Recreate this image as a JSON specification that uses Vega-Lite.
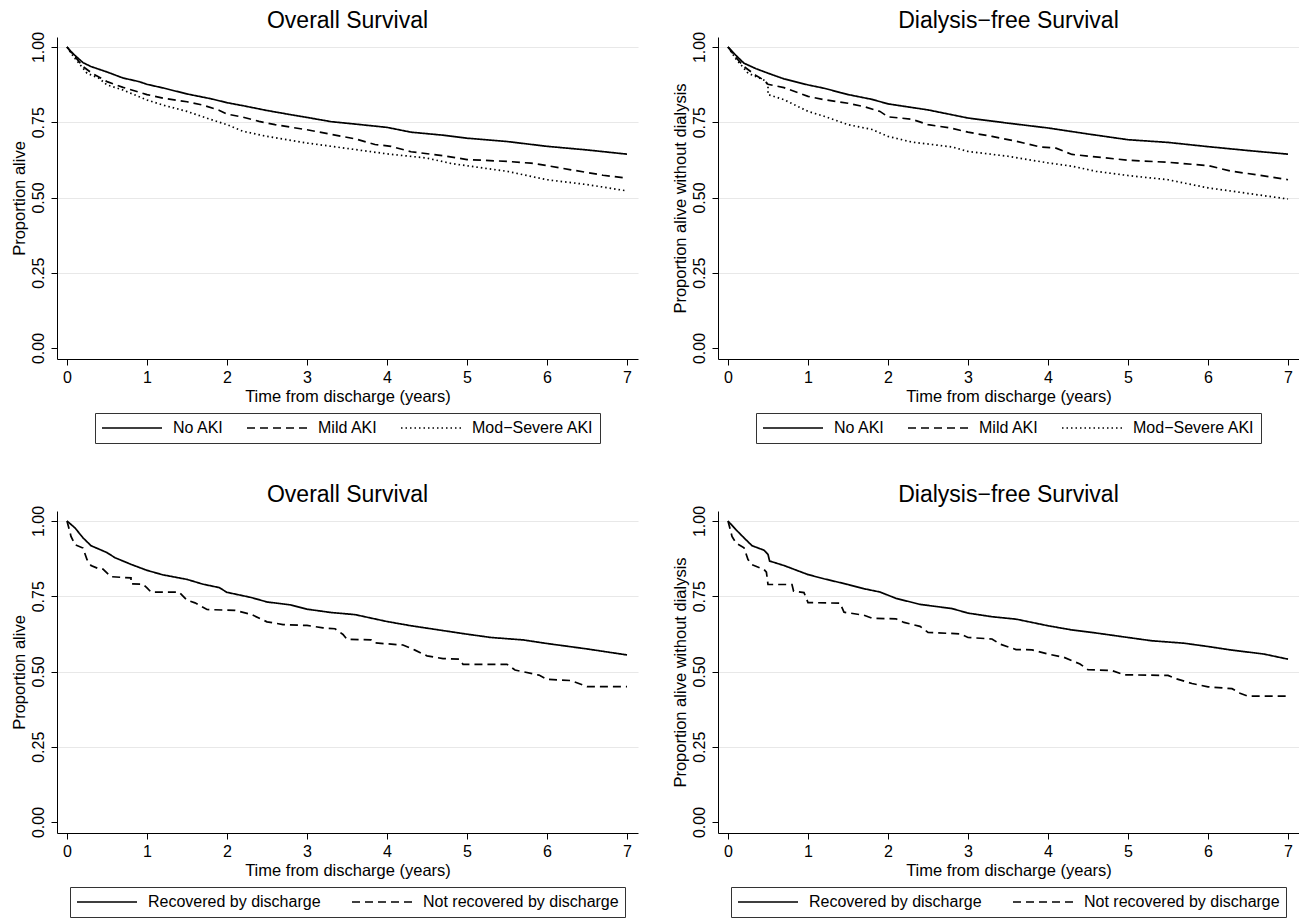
{
  "$schema": "https://vega.github.io/schema/vega-lite/v6.json",
  "background": "white",
  "padding": {"left": 11, "top": 10, "right": 0, "bottom": 0},
  "datasets": {
    "aki_os": [
      {"g": "No AKI", "t": 0, "s": 1.0}, {"g": "No AKI", "t": 0.05, "s": 0.985}, {"g": "No AKI", "t": 0.1, "s": 0.972}, {"g": "No AKI", "t": 0.2, "s": 0.948}, {"g": "No AKI", "t": 0.3, "s": 0.935}, {"g": "No AKI", "t": 0.5, "s": 0.917}, {"g": "No AKI", "t": 0.7, "s": 0.897}, {"g": "No AKI", "t": 0.9, "s": 0.885}, {"g": "No AKI", "t": 1.0, "s": 0.876}, {"g": "No AKI", "t": 1.2, "s": 0.864}, {"g": "No AKI", "t": 1.5, "s": 0.844}, {"g": "No AKI", "t": 1.8, "s": 0.828}, {"g": "No AKI", "t": 2.0, "s": 0.815}, {"g": "No AKI", "t": 2.2, "s": 0.805}, {"g": "No AKI", "t": 2.5, "s": 0.789}, {"g": "No AKI", "t": 2.8, "s": 0.775}, {"g": "No AKI", "t": 3.0, "s": 0.766}, {"g": "No AKI", "t": 3.3, "s": 0.752}, {"g": "No AKI", "t": 3.6, "s": 0.744}, {"g": "No AKI", "t": 4.0, "s": 0.733}, {"g": "No AKI", "t": 4.3, "s": 0.717}, {"g": "No AKI", "t": 4.7, "s": 0.707}, {"g": "No AKI", "t": 5.0, "s": 0.697}, {"g": "No AKI", "t": 5.5, "s": 0.686}, {"g": "No AKI", "t": 6.0, "s": 0.670}, {"g": "No AKI", "t": 6.5, "s": 0.658}, {"g": "No AKI", "t": 7.0, "s": 0.644},
      {"g": "Mild AKI", "t": 0, "s": 1.0}, {"g": "Mild AKI", "t": 0.05, "s": 0.983}, {"g": "Mild AKI", "t": 0.1, "s": 0.968}, {"g": "Mild AKI", "t": 0.2, "s": 0.935}, {"g": "Mild AKI", "t": 0.3, "s": 0.915}, {"g": "Mild AKI", "t": 0.5, "s": 0.885}, {"g": "Mild AKI", "t": 0.7, "s": 0.866}, {"g": "Mild AKI", "t": 1.0, "s": 0.842}, {"g": "Mild AKI", "t": 1.2, "s": 0.830}, {"g": "Mild AKI", "t": 1.5, "s": 0.818}, {"g": "Mild AKI", "t": 1.7, "s": 0.807}, {"g": "Mild AKI", "t": 1.9, "s": 0.790}, {"g": "Mild AKI", "t": 2.0, "s": 0.777}, {"g": "Mild AKI", "t": 2.2, "s": 0.767}, {"g": "Mild AKI", "t": 2.4, "s": 0.753}, {"g": "Mild AKI", "t": 2.6, "s": 0.742}, {"g": "Mild AKI", "t": 3.0, "s": 0.725}, {"g": "Mild AKI", "t": 3.3, "s": 0.710}, {"g": "Mild AKI", "t": 3.6, "s": 0.695}, {"g": "Mild AKI", "t": 3.85, "s": 0.676}, {"g": "Mild AKI", "t": 4.05, "s": 0.670}, {"g": "Mild AKI", "t": 4.3, "s": 0.652}, {"g": "Mild AKI", "t": 4.7, "s": 0.639}, {"g": "Mild AKI", "t": 5.0, "s": 0.626}, {"g": "Mild AKI", "t": 5.5, "s": 0.620}, {"g": "Mild AKI", "t": 5.8, "s": 0.614}, {"g": "Mild AKI", "t": 6.0, "s": 0.606}, {"g": "Mild AKI", "t": 6.3, "s": 0.592}, {"g": "Mild AKI", "t": 6.7, "s": 0.574}, {"g": "Mild AKI", "t": 7.0, "s": 0.564},
      {"g": "Mod−Severe AKI", "t": 0, "s": 1.0}, {"g": "Mod−Severe AKI", "t": 0.05, "s": 0.98}, {"g": "Mod−Severe AKI", "t": 0.1, "s": 0.962}, {"g": "Mod−Severe AKI", "t": 0.25, "s": 0.913}, {"g": "Mod−Severe AKI", "t": 0.4, "s": 0.896}, {"g": "Mod−Severe AKI", "t": 0.5, "s": 0.874}, {"g": "Mod−Severe AKI", "t": 0.7, "s": 0.857}, {"g": "Mod−Severe AKI", "t": 1.0, "s": 0.824}, {"g": "Mod−Severe AKI", "t": 1.2, "s": 0.807}, {"g": "Mod−Severe AKI", "t": 1.5, "s": 0.786}, {"g": "Mod−Severe AKI", "t": 1.8, "s": 0.759}, {"g": "Mod−Severe AKI", "t": 2.0, "s": 0.742}, {"g": "Mod−Severe AKI", "t": 2.2, "s": 0.720}, {"g": "Mod−Severe AKI", "t": 2.5, "s": 0.703}, {"g": "Mod−Severe AKI", "t": 3.0, "s": 0.681}, {"g": "Mod−Severe AKI", "t": 3.5, "s": 0.663}, {"g": "Mod−Severe AKI", "t": 4.0, "s": 0.645}, {"g": "Mod−Severe AKI", "t": 4.5, "s": 0.631}, {"g": "Mod−Severe AKI", "t": 4.8, "s": 0.613}, {"g": "Mod−Severe AKI", "t": 5.2, "s": 0.598}, {"g": "Mod−Severe AKI", "t": 5.5, "s": 0.587}, {"g": "Mod−Severe AKI", "t": 6.0, "s": 0.559}, {"g": "Mod−Severe AKI", "t": 6.5, "s": 0.543}, {"g": "Mod−Severe AKI", "t": 7.0, "s": 0.522}
    ],
    "aki_dfs": [
      {"g": "No AKI", "t": 0, "s": 1.0}, {"g": "No AKI", "t": 0.1, "s": 0.972}, {"g": "No AKI", "t": 0.2, "s": 0.946}, {"g": "No AKI", "t": 0.35, "s": 0.928}, {"g": "No AKI", "t": 0.5, "s": 0.913}, {"g": "No AKI", "t": 0.7, "s": 0.894}, {"g": "No AKI", "t": 1.0, "s": 0.874}, {"g": "No AKI", "t": 1.2, "s": 0.863}, {"g": "No AKI", "t": 1.5, "s": 0.842}, {"g": "No AKI", "t": 1.8, "s": 0.826}, {"g": "No AKI", "t": 2.0, "s": 0.811}, {"g": "No AKI", "t": 2.5, "s": 0.791}, {"g": "No AKI", "t": 3.0, "s": 0.764}, {"g": "No AKI", "t": 3.5, "s": 0.747}, {"g": "No AKI", "t": 4.0, "s": 0.731}, {"g": "No AKI", "t": 4.5, "s": 0.711}, {"g": "No AKI", "t": 5.0, "s": 0.692}, {"g": "No AKI", "t": 5.5, "s": 0.683}, {"g": "No AKI", "t": 6.0, "s": 0.669}, {"g": "No AKI", "t": 6.5, "s": 0.656}, {"g": "No AKI", "t": 7.0, "s": 0.644},
      {"g": "Mild AKI", "t": 0, "s": 1.0}, {"g": "Mild AKI", "t": 0.1, "s": 0.965}, {"g": "Mild AKI", "t": 0.2, "s": 0.935}, {"g": "Mild AKI", "t": 0.35, "s": 0.905}, {"g": "Mild AKI", "t": 0.45, "s": 0.89}, {"g": "Mild AKI", "t": 0.5, "s": 0.876}, {"g": "Mild AKI", "t": 0.7, "s": 0.865}, {"g": "Mild AKI", "t": 1.0, "s": 0.836}, {"g": "Mild AKI", "t": 1.2, "s": 0.825}, {"g": "Mild AKI", "t": 1.5, "s": 0.813}, {"g": "Mild AKI", "t": 1.7, "s": 0.802}, {"g": "Mild AKI", "t": 1.9, "s": 0.786}, {"g": "Mild AKI", "t": 2.0, "s": 0.768}, {"g": "Mild AKI", "t": 2.3, "s": 0.760}, {"g": "Mild AKI", "t": 2.5, "s": 0.742}, {"g": "Mild AKI", "t": 2.8, "s": 0.730}, {"g": "Mild AKI", "t": 3.0, "s": 0.717}, {"g": "Mild AKI", "t": 3.3, "s": 0.703}, {"g": "Mild AKI", "t": 3.6, "s": 0.687}, {"g": "Mild AKI", "t": 3.9, "s": 0.668}, {"g": "Mild AKI", "t": 4.1, "s": 0.664}, {"g": "Mild AKI", "t": 4.3, "s": 0.643}, {"g": "Mild AKI", "t": 4.7, "s": 0.632}, {"g": "Mild AKI", "t": 5.0, "s": 0.624}, {"g": "Mild AKI", "t": 5.5, "s": 0.617}, {"g": "Mild AKI", "t": 6.0, "s": 0.606}, {"g": "Mild AKI", "t": 6.3, "s": 0.587}, {"g": "Mild AKI", "t": 6.6, "s": 0.576}, {"g": "Mild AKI", "t": 7.0, "s": 0.559},
      {"g": "Mod−Severe AKI", "t": 0, "s": 1.0}, {"g": "Mod−Severe AKI", "t": 0.1, "s": 0.96}, {"g": "Mod−Severe AKI", "t": 0.25, "s": 0.913}, {"g": "Mod−Severe AKI", "t": 0.45, "s": 0.89}, {"g": "Mod−Severe AKI", "t": 0.5, "s": 0.874}, {"g": "Mod−Severe AKI", "t": 0.5, "s": 0.842}, {"g": "Mod−Severe AKI", "t": 0.7, "s": 0.825}, {"g": "Mod−Severe AKI", "t": 1.0, "s": 0.786}, {"g": "Mod−Severe AKI", "t": 1.2, "s": 0.770}, {"g": "Mod−Severe AKI", "t": 1.5, "s": 0.742}, {"g": "Mod−Severe AKI", "t": 1.8, "s": 0.726}, {"g": "Mod−Severe AKI", "t": 2.0, "s": 0.703}, {"g": "Mod−Severe AKI", "t": 2.3, "s": 0.684}, {"g": "Mod−Severe AKI", "t": 2.8, "s": 0.668}, {"g": "Mod−Severe AKI", "t": 3.0, "s": 0.653}, {"g": "Mod−Severe AKI", "t": 3.5, "s": 0.637}, {"g": "Mod−Severe AKI", "t": 4.0, "s": 0.615}, {"g": "Mod−Severe AKI", "t": 4.3, "s": 0.604}, {"g": "Mod−Severe AKI", "t": 4.6, "s": 0.587}, {"g": "Mod−Severe AKI", "t": 5.0, "s": 0.573}, {"g": "Mod−Severe AKI", "t": 5.5, "s": 0.559}, {"g": "Mod−Severe AKI", "t": 6.0, "s": 0.532}, {"g": "Mod−Severe AKI", "t": 6.3, "s": 0.521}, {"g": "Mod−Severe AKI", "t": 6.7, "s": 0.506}, {"g": "Mod−Severe AKI", "t": 7.0, "s": 0.495}
    ],
    "rec_os": [
      {"g": "Recovered by discharge", "t": 0, "s": 1.0}, {"g": "Recovered by discharge", "t": 0.1, "s": 0.977}, {"g": "Recovered by discharge", "t": 0.2, "s": 0.944}, {"g": "Recovered by discharge", "t": 0.3, "s": 0.918}, {"g": "Recovered by discharge", "t": 0.5, "s": 0.895}, {"g": "Recovered by discharge", "t": 0.6, "s": 0.878}, {"g": "Recovered by discharge", "t": 0.8, "s": 0.856}, {"g": "Recovered by discharge", "t": 1.0, "s": 0.836}, {"g": "Recovered by discharge", "t": 1.2, "s": 0.821}, {"g": "Recovered by discharge", "t": 1.5, "s": 0.806}, {"g": "Recovered by discharge", "t": 1.7, "s": 0.790}, {"g": "Recovered by discharge", "t": 1.9, "s": 0.779}, {"g": "Recovered by discharge", "t": 2.0, "s": 0.763}, {"g": "Recovered by discharge", "t": 2.3, "s": 0.746}, {"g": "Recovered by discharge", "t": 2.5, "s": 0.731}, {"g": "Recovered by discharge", "t": 2.8, "s": 0.721}, {"g": "Recovered by discharge", "t": 3.0, "s": 0.707}, {"g": "Recovered by discharge", "t": 3.3, "s": 0.696}, {"g": "Recovered by discharge", "t": 3.6, "s": 0.689}, {"g": "Recovered by discharge", "t": 4.0, "s": 0.666}, {"g": "Recovered by discharge", "t": 4.3, "s": 0.652}, {"g": "Recovered by discharge", "t": 4.7, "s": 0.636}, {"g": "Recovered by discharge", "t": 5.0, "s": 0.624}, {"g": "Recovered by discharge", "t": 5.3, "s": 0.613}, {"g": "Recovered by discharge", "t": 5.7, "s": 0.605}, {"g": "Recovered by discharge", "t": 6.0, "s": 0.593}, {"g": "Recovered by discharge", "t": 6.5, "s": 0.575}, {"g": "Recovered by discharge", "t": 7.0, "s": 0.555},
      {"g": "Not recovered by discharge", "t": 0, "s": 1.0}, {"g": "Not recovered by discharge", "t": 0.03, "s": 0.97}, {"g": "Not recovered by discharge", "t": 0.05, "s": 0.949}, {"g": "Not recovered by discharge", "t": 0.1, "s": 0.921}, {"g": "Not recovered by discharge", "t": 0.2, "s": 0.91}, {"g": "Not recovered by discharge", "t": 0.25, "s": 0.872}, {"g": "Not recovered by discharge", "t": 0.3, "s": 0.852}, {"g": "Not recovered by discharge", "t": 0.4, "s": 0.841}, {"g": "Not recovered by discharge", "t": 0.45, "s": 0.84}, {"g": "Not recovered by discharge", "t": 0.55, "s": 0.815}, {"g": "Not recovered by discharge", "t": 0.8, "s": 0.811}, {"g": "Not recovered by discharge", "t": 0.8, "s": 0.791}, {"g": "Not recovered by discharge", "t": 0.95, "s": 0.79}, {"g": "Not recovered by discharge", "t": 1.0, "s": 0.778}, {"g": "Not recovered by discharge", "t": 1.05, "s": 0.764}, {"g": "Not recovered by discharge", "t": 1.4, "s": 0.764}, {"g": "Not recovered by discharge", "t": 1.5, "s": 0.737}, {"g": "Not recovered by discharge", "t": 1.6, "s": 0.728}, {"g": "Not recovered by discharge", "t": 1.75, "s": 0.706}, {"g": "Not recovered by discharge", "t": 2.1, "s": 0.703}, {"g": "Not recovered by discharge", "t": 2.3, "s": 0.690}, {"g": "Not recovered by discharge", "t": 2.5, "s": 0.665}, {"g": "Not recovered by discharge", "t": 2.7, "s": 0.656}, {"g": "Not recovered by discharge", "t": 3.0, "s": 0.653}, {"g": "Not recovered by discharge", "t": 3.2, "s": 0.645}, {"g": "Not recovered by discharge", "t": 3.35, "s": 0.642}, {"g": "Not recovered by discharge", "t": 3.45, "s": 0.623}, {"g": "Not recovered by discharge", "t": 3.5, "s": 0.607}, {"g": "Not recovered by discharge", "t": 3.8, "s": 0.605}, {"g": "Not recovered by discharge", "t": 3.85, "s": 0.595}, {"g": "Not recovered by discharge", "t": 4.2, "s": 0.588}, {"g": "Not recovered by discharge", "t": 4.35, "s": 0.571}, {"g": "Not recovered by discharge", "t": 4.5, "s": 0.552}, {"g": "Not recovered by discharge", "t": 4.7, "s": 0.543}, {"g": "Not recovered by discharge", "t": 4.9, "s": 0.541}, {"g": "Not recovered by discharge", "t": 4.95, "s": 0.524}, {"g": "Not recovered by discharge", "t": 5.5, "s": 0.524}, {"g": "Not recovered by discharge", "t": 5.6, "s": 0.505}, {"g": "Not recovered by discharge", "t": 5.9, "s": 0.488}, {"g": "Not recovered by discharge", "t": 6.0, "s": 0.474}, {"g": "Not recovered by discharge", "t": 6.3, "s": 0.470}, {"g": "Not recovered by discharge", "t": 6.5, "s": 0.45}, {"g": "Not recovered by discharge", "t": 7.0, "s": 0.45}
    ],
    "rec_dfs": [
      {"g": "Recovered by discharge", "t": 0, "s": 1.0}, {"g": "Recovered by discharge", "t": 0.1, "s": 0.971}, {"g": "Recovered by discharge", "t": 0.2, "s": 0.944}, {"g": "Recovered by discharge", "t": 0.3, "s": 0.918}, {"g": "Recovered by discharge", "t": 0.45, "s": 0.903}, {"g": "Recovered by discharge", "t": 0.5, "s": 0.889}, {"g": "Recovered by discharge", "t": 0.52, "s": 0.867}, {"g": "Recovered by discharge", "t": 0.7, "s": 0.852}, {"g": "Recovered by discharge", "t": 1.0, "s": 0.822}, {"g": "Recovered by discharge", "t": 1.2, "s": 0.808}, {"g": "Recovered by discharge", "t": 1.5, "s": 0.789}, {"g": "Recovered by discharge", "t": 1.7, "s": 0.775}, {"g": "Recovered by discharge", "t": 1.9, "s": 0.764}, {"g": "Recovered by discharge", "t": 2.1, "s": 0.743}, {"g": "Recovered by discharge", "t": 2.4, "s": 0.723}, {"g": "Recovered by discharge", "t": 2.8, "s": 0.709}, {"g": "Recovered by discharge", "t": 3.0, "s": 0.694}, {"g": "Recovered by discharge", "t": 3.3, "s": 0.682}, {"g": "Recovered by discharge", "t": 3.6, "s": 0.674}, {"g": "Recovered by discharge", "t": 4.0, "s": 0.652}, {"g": "Recovered by discharge", "t": 4.3, "s": 0.638}, {"g": "Recovered by discharge", "t": 4.6, "s": 0.628}, {"g": "Recovered by discharge", "t": 5.0, "s": 0.613}, {"g": "Recovered by discharge", "t": 5.3, "s": 0.602}, {"g": "Recovered by discharge", "t": 5.7, "s": 0.594}, {"g": "Recovered by discharge", "t": 6.0, "s": 0.583}, {"g": "Recovered by discharge", "t": 6.3, "s": 0.571}, {"g": "Recovered by discharge", "t": 6.7, "s": 0.558}, {"g": "Recovered by discharge", "t": 7.0, "s": 0.541},
      {"g": "Not recovered by discharge", "t": 0, "s": 1.0}, {"g": "Not recovered by discharge", "t": 0.03, "s": 0.97}, {"g": "Not recovered by discharge", "t": 0.05, "s": 0.949}, {"g": "Not recovered by discharge", "t": 0.1, "s": 0.927}, {"g": "Not recovered by discharge", "t": 0.2, "s": 0.911}, {"g": "Not recovered by discharge", "t": 0.25, "s": 0.872}, {"g": "Not recovered by discharge", "t": 0.3, "s": 0.855}, {"g": "Not recovered by discharge", "t": 0.45, "s": 0.839}, {"g": "Not recovered by discharge", "t": 0.48, "s": 0.83}, {"g": "Not recovered by discharge", "t": 0.5, "s": 0.789}, {"g": "Not recovered by discharge", "t": 0.8, "s": 0.789}, {"g": "Not recovered by discharge", "t": 0.82, "s": 0.767}, {"g": "Not recovered by discharge", "t": 0.95, "s": 0.762}, {"g": "Not recovered by discharge", "t": 1.0, "s": 0.729}, {"g": "Not recovered by discharge", "t": 1.4, "s": 0.727}, {"g": "Not recovered by discharge", "t": 1.45, "s": 0.697}, {"g": "Not recovered by discharge", "t": 1.7, "s": 0.687}, {"g": "Not recovered by discharge", "t": 1.8, "s": 0.677}, {"g": "Not recovered by discharge", "t": 2.1, "s": 0.675}, {"g": "Not recovered by discharge", "t": 2.2, "s": 0.663}, {"g": "Not recovered by discharge", "t": 2.4, "s": 0.650}, {"g": "Not recovered by discharge", "t": 2.5, "s": 0.630}, {"g": "Not recovered by discharge", "t": 2.9, "s": 0.625}, {"g": "Not recovered by discharge", "t": 3.0, "s": 0.613}, {"g": "Not recovered by discharge", "t": 3.3, "s": 0.608}, {"g": "Not recovered by discharge", "t": 3.4, "s": 0.591}, {"g": "Not recovered by discharge", "t": 3.6, "s": 0.573}, {"g": "Not recovered by discharge", "t": 3.8, "s": 0.572}, {"g": "Not recovered by discharge", "t": 4.0, "s": 0.558}, {"g": "Not recovered by discharge", "t": 4.2, "s": 0.547}, {"g": "Not recovered by discharge", "t": 4.4, "s": 0.525}, {"g": "Not recovered by discharge", "t": 4.5, "s": 0.506}, {"g": "Not recovered by discharge", "t": 4.8, "s": 0.503}, {"g": "Not recovered by discharge", "t": 4.95, "s": 0.489}, {"g": "Not recovered by discharge", "t": 5.5, "s": 0.487}, {"g": "Not recovered by discharge", "t": 5.6, "s": 0.476}, {"g": "Not recovered by discharge", "t": 5.8, "s": 0.460}, {"g": "Not recovered by discharge", "t": 6.0, "s": 0.449}, {"g": "Not recovered by discharge", "t": 6.3, "s": 0.443}, {"g": "Not recovered by discharge", "t": 6.4, "s": 0.428}, {"g": "Not recovered by discharge", "t": 6.5, "s": 0.418}, {"g": "Not recovered by discharge", "t": 7.0, "s": 0.418}
    ]
  },
  "columns": 2,
  "spacing": {"row": 152, "column": 80},
  "bounds": "flush",
  "resolve": {
    "scale": {"strokeDash": "independent", "x": "independent", "y": "independent"},
    "legend": {"strokeDash": "independent"}
  },
  "concat": [
    {
      "width": 581, "height": 322,
      "title": "Overall Survival",
      "data": {"name": "aki_os"},
      "mark": {"type": "line", "color": "black", "strokeWidth": 1.7},
      "encoding": {
        "x": {"field": "t", "type": "quantitative", "scale": {"domain": [-0.125, 7.1375], "nice": false, "zero": false}, "axis": {"values": [0, 1, 2, 3, 4, 5, 6, 7], "title": "Time from discharge (years)"}},
        "y": {"field": "s", "type": "quantitative", "scale": {"domain": [-0.0365, 1.0332], "nice": false, "zero": false}, "axis": {"values": [0, 0.25, 0.5, 0.75, 1], "format": ".2f", "title": "Proportion alive"}},
        "strokeDash": {"field": "g", "type": "nominal", "scale": {"domain": ["No AKI", "Mild AKI", "Mod−Severe AKI"], "range": [[1, 0], [8, 5], [1.5, 3]]}, "legend": {"title": null, "columnPadding": 22}}
      }
    },
    {
      "width": 581, "height": 322,
      "title": "Dialysis−free Survival",
      "data": {"name": "aki_dfs"},
      "mark": {"type": "line", "color": "black", "strokeWidth": 1.7},
      "encoding": {
        "x": {"field": "t", "type": "quantitative", "scale": {"domain": [-0.125, 7.1375], "nice": false, "zero": false}, "axis": {"values": [0, 1, 2, 3, 4, 5, 6, 7], "title": "Time from discharge (years)"}},
        "y": {"field": "s", "type": "quantitative", "scale": {"domain": [-0.0365, 1.0332], "nice": false, "zero": false}, "axis": {"values": [0, 0.25, 0.5, 0.75, 1], "format": ".2f", "title": "Proportion alive without dialysis"}},
        "strokeDash": {"field": "g", "type": "nominal", "scale": {"domain": ["No AKI", "Mild AKI", "Mod−Severe AKI"], "range": [[1, 0], [8, 5], [1.5, 3]]}, "legend": {"title": null, "columnPadding": 22}}
      }
    },
    {
      "width": 581, "height": 322,
      "title": "Overall Survival",
      "data": {"name": "rec_os"},
      "mark": {"type": "line", "color": "black", "strokeWidth": 1.7},
      "encoding": {
        "x": {"field": "t", "type": "quantitative", "scale": {"domain": [-0.125, 7.1375], "nice": false, "zero": false}, "axis": {"values": [0, 1, 2, 3, 4, 5, 6, 7], "title": "Time from discharge (years)"}},
        "y": {"field": "s", "type": "quantitative", "scale": {"domain": [-0.0365, 1.0332], "nice": false, "zero": false}, "axis": {"values": [0, 0.25, 0.5, 0.75, 1], "format": ".2f", "title": "Proportion alive"}},
        "strokeDash": {"field": "g", "type": "nominal", "scale": {"domain": ["Recovered by discharge", "Not recovered by discharge"], "range": [[1, 0], [8, 5]]}, "legend": {"title": null, "columnPadding": 30}}
      }
    },
    {
      "width": 581, "height": 322,
      "title": "Dialysis−free Survival",
      "data": {"name": "rec_dfs"},
      "mark": {"type": "line", "color": "black", "strokeWidth": 1.7},
      "encoding": {
        "x": {"field": "t", "type": "quantitative", "scale": {"domain": [-0.125, 7.1375], "nice": false, "zero": false}, "axis": {"values": [0, 1, 2, 3, 4, 5, 6, 7], "title": "Time from discharge (years)"}},
        "y": {"field": "s", "type": "quantitative", "scale": {"domain": [-0.0365, 1.0332], "nice": false, "zero": false}, "axis": {"values": [0, 0.25, 0.5, 0.75, 1], "format": ".2f", "title": "Proportion alive without dialysis"}},
        "strokeDash": {"field": "g", "type": "nominal", "scale": {"domain": ["Recovered by discharge", "Not recovered by discharge"], "range": [[1, 0], [8, 5]]}, "legend": {"title": null, "columnPadding": 30}}
      }
    }
  ],
  "config": {
    "font": "Liberation Sans",
    "view": {"stroke": null},
    "axis": {
      "domainColor": "black", "domainWidth": 1, "tickColor": "black", "tickWidth": 1, "tickSize": 6,
      "labelColor": "black", "labelFontSize": 16, "labelFont": "Liberation Sans",
      "titleColor": "black", "titleFontSize": 16.5, "titleFontWeight": "normal", "titleFont": "Liberation Sans"
    },
    "axisX": {"grid": false, "labelPadding": 4, "titlePadding": 3, "labelFlush": false},
    "axisY": {
      "grid": true, "gridColor": "#e8e8e8", "gridWidth": 1.2,
      "gridOpacity": {"condition": {"test": "datum.value === 0", "value": 0}, "value": 1},
      "labelAngle": -90, "labelAlign": "center", "labelBaseline": "alphabetic", "labelPadding": 8, "titlePadding": 3, "labelFlush": false
    },
    "title": {"fontSize": 23, "fontWeight": "normal", "color": "black", "font": "Liberation Sans", "offset": -2, "frame": "group", "anchor": "middle"},
    "legend": {
      "orient": "bottom", "direction": "horizontal", "offset": 8,
      "strokeColor": "#333333", "padding": 6,
      "labelFontSize": 16, "labelColor": "black", "labelFont": "Liberation Sans", "labelOffset": 10, "labelLimit": 500,
      "symbolType": "stroke", "symbolSize": 3600, "symbolStrokeWidth": 1.5, "symbolStrokeColor": "black",
      "clipHeight": 18,
      "layout": {"bottom": {"anchor": "middle"}}
    }
  }
}
